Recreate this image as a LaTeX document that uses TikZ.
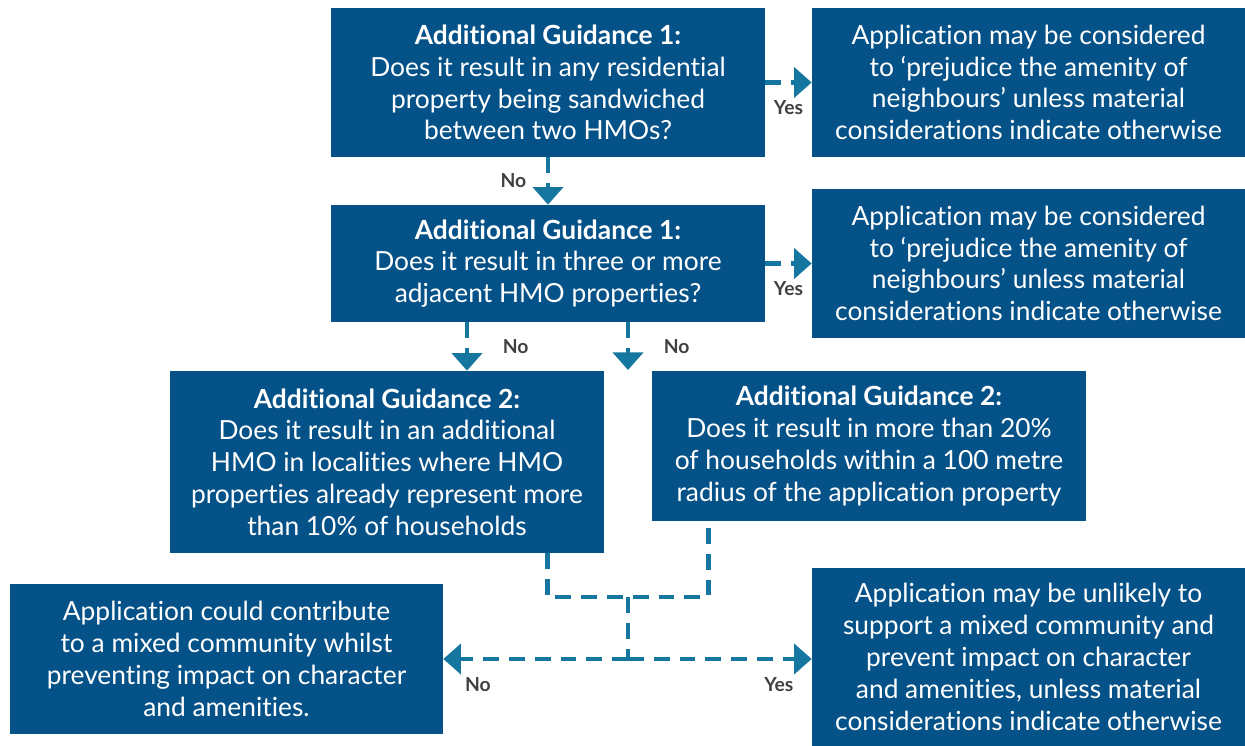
\documentclass[tikz,border=0pt]{standalone}
\usepackage{fontspec}
\setmainfont{Lato}[Ligatures=NoCommon]
\usetikzlibrary{arrows.meta,positioning,calc}
\definecolor{boxblue}{RGB}{5,82,136}
\definecolor{linkblue}{RGB}{21,119,160}
\definecolor{labelgray}{RGB}{64,64,64}
\tikzset{
  box/.style={rectangle,fill=boxblue,text=white,minimum width=#1,
              align=center,inner sep=0pt,font=\fontsize{15}{18.1}\selectfont},
  box/.default=8.68cm,
  link/.style={linkblue,line width=2.8pt,dash pattern=on 9pt off 5.7pt},
  arrow/.style={link,-{Triangle[length=10pt,width=17pt]}},
  answer/.style={font=\fontsize{11}{13}\selectfont\bfseries,text=labelgray,inner sep=0pt},
}

\begin{document}
\begin{tikzpicture}[x=0.02cm,y=-0.02cm]
  \useasboundingbox (0,0) rectangle (1245,746);

  % questions
  \node[box,minimum height=2.98cm] (q1) at (548,82.5)
    {\textbf{Additional Guidance 1:}\\Does it result in any residential\\
     property being sandwiched\\between two HMOs?};
  \node[box,minimum height=2.34cm] (q2) at (548,263.5)
    {\textbf{Additional Guidance 1:}\\Does it result in three or more\\
     adjacent HMO properties?};
  \node[box,minimum height=3.64cm] (b1) at (387,462)
    {\textbf{Additional Guidance 2:}\\Does it result in an additional\\
     HMO in localities where HMO\\properties already represent more\\
     than 10\% of households};
  \node[box,minimum height=3.0cm] (b2) at (869,446)
    {\textbf{Additional Guidance 2:}\\Does it result in more than 20\%\\
     of households within a 100 metre\\radius of the application property};

  % outcomes
  \node[box=8.66cm,minimum height=2.98cm] (r1) at (1028.5,82.5)
    {Application may be considered\\to ‘prejudice the amenity of\\
     neighbours’ unless material\\considerations indicate otherwise};
  \node[box=8.66cm,minimum height=2.98cm] (r2) at (1028.5,263.5)
    {Application may be considered\\to ‘prejudice the amenity of\\
     neighbours’ unless material\\considerations indicate otherwise};
  \node[box=8.66cm,minimum height=3.0cm] (left) at (226.5,659)
    {Application could contribute\\to a mixed community whilst\\
     preventing impact on character\\and amenities.};
  \node[box=8.66cm,minimum height=3.56cm] (r3) at (1028.5,657)
    {Application may be unlikely to\\support a mixed community and\\
     prevent impact on character\\and amenities, unless material\\
     considerations indicate otherwise};

  \coordinate (gap) at (628,370);
  \coordinate (leftdrop) at ($(q2.south)+(-81,0)$);
  \coordinate (join) at (628,597);
  \coordinate (split) at (628,659);

  % yes / no links
  \draw[arrow] (q1.east) -- (r1.west) node[answer,midway,below=9pt]{Yes};
  \draw[arrow] (q2.east) -- (r2.west) node[answer,midway,below=9pt]{Yes};
  \draw[arrow] (q1.south) -- (q2.north) node[answer,midway,left=11pt]{No};
  \draw[arrow] (leftdrop) -- (leftdrop |- b1.north)
    node[answer,midway,right=19pt]{No};
  \draw[arrow] (q2.south -| gap) -- (gap) node[answer,midway,right=19pt]{No};

  % merge of the two second questions
  \draw[link] ($(b1.south east)+(-57,0)$) |- (join)
    -| ($(b2.south west)+(57,0)$);
  \draw[link] (join) -- (split);
  \draw[arrow] (split) -- (left.east |- split)
    node[answer,pos=1,below right=9pt and 11pt]{No};
  \draw[arrow] (split) -- (r3.west |- split)
    node[answer,pos=1,below left=9pt and 9pt]{Yes};
\end{tikzpicture}
\end{document}
